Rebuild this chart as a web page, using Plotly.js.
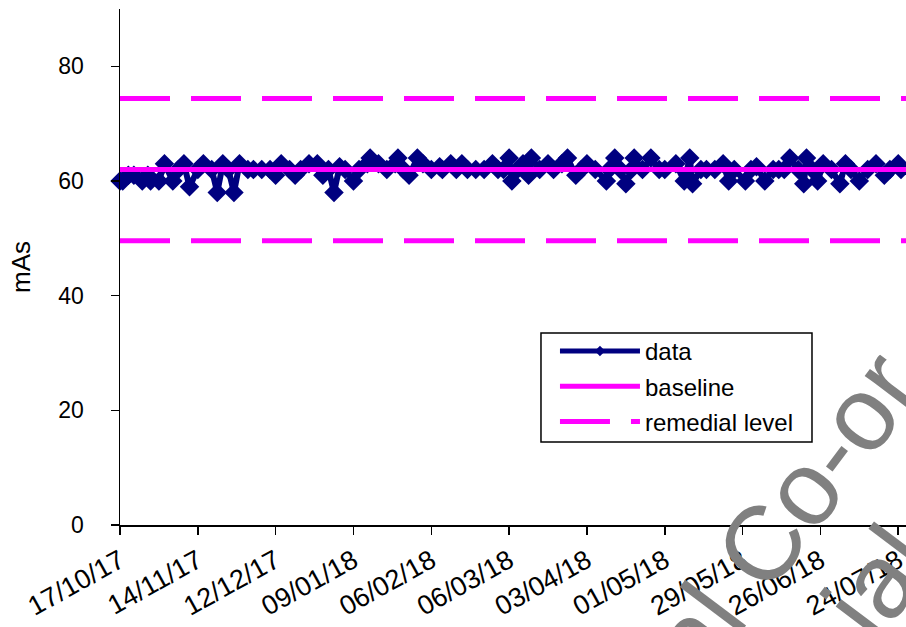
<!DOCTYPE html>
<html>
<head>
<meta charset="utf-8">
<script src="https://cdn.plot.ly/plotly-3.0.1.min.js"></script>
<style>html,body{margin:0;padding:0;background:#fff;}#chart{width:906px;height:627px;}</style>
</head>
<body>
<div id="chart"></div>
<script>
// ---- data ----
const dates = ['2017-10-17','2017-10-18','2017-10-20','2017-10-22','2017-10-25','2017-10-27','2017-10-28','2017-10-31','2017-11-02','2017-11-05',
'2017-11-07','2017-11-09','2017-11-11','2017-11-14','2017-11-16','2017-11-19','2017-11-21','2017-11-23','2017-11-25','2017-11-27',
'2017-11-29','2017-12-02','2017-12-04','2017-12-07','2017-12-10','2017-12-12','2017-12-14','2017-12-17','2017-12-19','2017-12-21',
'2017-12-24','2017-12-27','2017-12-29','2017-12-31','2018-01-02','2018-01-04','2018-01-06','2018-01-09','2018-01-11','2018-01-14',
'2018-01-15','2018-01-18','2018-01-21','2018-01-24','2018-01-25','2018-01-27','2018-01-29','2018-02-01','2018-02-03','2018-02-06',
'2018-02-09','2018-02-10','2018-02-13','2018-02-15','2018-02-17','2018-02-19','2018-02-22','2018-02-25','2018-02-28','2018-03-02',
'2018-03-04','2018-03-06','2018-03-07','2018-03-09','2018-03-11','2018-03-13','2018-03-14','2018-03-17','2018-03-20','2018-03-22',
'2018-03-25','2018-03-27','2018-03-30','2018-04-01','2018-04-03','2018-04-06','2018-04-10','2018-04-11','2018-04-13','2018-04-15',
'2018-04-17','2018-04-19','2018-04-20','2018-04-23','2018-04-26','2018-04-29','2018-05-01','2018-05-05','2018-05-08','2018-05-10',
'2018-05-11','2018-05-14','2018-05-16','2018-05-19','2018-05-22','2018-05-24','2018-05-26','2018-05-30','2018-06-01','2018-06-03',
'2018-06-06','2018-06-09','2018-06-11','2018-06-13','2018-06-15','2018-06-18','2018-06-20','2018-06-21','2018-06-23','2018-06-25',
'2018-06-27','2018-06-30','2018-07-03','2018-07-05','2018-07-07','2018-07-10','2018-07-13','2018-07-16','2018-07-19','2018-07-21',
'2018-07-24','2018-07-25'];

const mAs = [60,60,61,61,60,61,60,60,63,60,
62,63,59,62,63,62,58,63,62,58,
63,62,62,62,62,61,63,62,61,62,
63,63,61,62,58,62.5,62,60,62,63,
64,63,62,63,64,62,61,64,63,62,
62.5,62,63,62,63,62,62,62,63,62,
62,64,60,62,63,61,64,62,63,62,
63,64,61,62,63,62,60,62,64,62,
59.5,62,64,62,64,62,62,63,60,64,
59.5,62,62,62,63,60,62,60,62,62.5,
60,62,62,62,64,62,59.5,64,62,60,
63,62,59.5,63,62,60,62,63,61,62,
63,62];

const baselineValue = 62.0;
const remedialUpper = 74.4;
const remedialLower = 49.6;
const lineSpan = ['2017-10-17', '2018-07-26 19:00'];

const tickDates = ['2017-10-17','2017-11-14','2017-12-12','2018-01-09','2018-02-06','2018-03-06','2018-04-03','2018-05-01','2018-05-29','2018-06-26','2018-07-24'];
const tickLabels = ['17/10/17','14/11/17','12/12/17','09/01/18','06/02/18','06/03/18','03/04/18','01/05/18','29/05/18','26/06/18','24/07/18'];
const yTicks = [0,20,40,60,80];

const NAVY = '#000080';
const MAGENTA = '#FF00FF';
const FONT = 'Liberation Sans, Arial, sans-serif';

const traces = [
  {
    x: dates, y: mAs, type: 'scatter', mode: 'lines+markers', name: 'data',
    line: {color: NAVY, width: 6},
    marker: {symbol: 'diamond', size: 15, color: NAVY},
    showlegend: false, cliponaxis: false, hoverinfo: 'x+y'
  },
  {
    x: [null], y: [null], type: 'scatter', mode: 'lines+markers', name: 'data',
    line: {color: NAVY, width: 5}, marker: {symbol: 'diamond', size: 8, color: NAVY},
    legendgroup: 'a', legendrank: 1
  },
  {
    x: lineSpan, y: [baselineValue, baselineValue], type: 'scatter', mode: 'lines', name: 'baseline',
    line: {color: MAGENTA, width: 5}, legendgroup: 'b', legendrank: 2
  },
  {
    x: lineSpan, y: [remedialUpper, remedialUpper], type: 'scatter', mode: 'lines', name: 'remedial level',
    line: {color: MAGENTA, width: 5, dash: '50px,21px'}, legendgroup: 'c', legendrank: 3
  },
  {
    x: lineSpan, y: [remedialLower, remedialLower], type: 'scatter', mode: 'lines', name: 'remedial level',
    line: {color: MAGENTA, width: 5, dash: '50px,21px'}, legendgroup: 'c', showlegend: false
  }
];

const layout = {
  width: 906, height: 627,
  margin: {l: 120, r: 0, t: 9, b: 102, pad: 0},
  paper_bgcolor: '#fff', plot_bgcolor: '#fff',
  font: {family: FONT, size: 23, color: '#000'},
  showlegend: true,
  xaxis: {
    type: 'date', range: lineSpan,
    tickmode: 'array', tickvals: tickDates, ticktext: tickLabels,
    tickangle: -29, ticks: 'outside', ticklen: 8, tickwidth: 1.5, tickcolor: '#000',
    showline: true, linecolor: '#000', linewidth: 1.5,
    showgrid: false, zeroline: false, ticklabeloverflow: 'allow',
    tickfont: {family: FONT, size: 27, color: '#000'}
  },
  yaxis: {
    range: [0, 90], tickmode: 'array', tickvals: yTicks,
    ticks: 'outside', ticklen: 8, tickwidth: 1.5, tickcolor: '#000',
    showline: true, linecolor: '#000', linewidth: 1.5,
    showgrid: false, zeroline: false, ticklabelstandoff: 22,
    tickfont: {family: FONT, size: 23, color: '#000'},
    title: {text: 'mAs', font: {family: FONT, size: 26, color: '#000'}, standoff: 20}
  },
  legend: {
    x: 0.5534, y: 0.380, xanchor: 'left', yanchor: 'top',
    bgcolor: 'rgba(0,0,0,0)', borderwidth: 0,
    font: {family: FONT, size: 24, color: '#000'},
    itemwidth: 80, traceorder: 'grouped', tracegroupgap: 1
  },
  shapes: [{
    type: 'rect', xref: 'paper', yref: 'paper',
    x0: 0.5356, x1: 0.8804, y0: 0.1609, y1: 0.3721,
    line: {color: '#000', width: 1.5}, fillcolor: '#fff', layer: 'above'
  }],
  annotations: [{
    text: 'al Co-or', xref: 'paper', yref: 'paper', x: 0.845, y: 0.02,
    xanchor: 'center', yanchor: 'middle', showarrow: false, textangle: -53,
    font: {family: FONT, size: 105, color: '#808080'}
  }, {
    text: 'ial', xref: 'paper', yref: 'paper', x: 0.965, y: -0.11,
    xanchor: 'center', yanchor: 'middle', showarrow: false, textangle: -53,
    font: {family: FONT, size: 105, color: '#808080'}
  }]
};

Plotly.newPlot('chart', traces, layout, {displayModeBar: false, staticPlot: true});
</script>
</body>
</html>
